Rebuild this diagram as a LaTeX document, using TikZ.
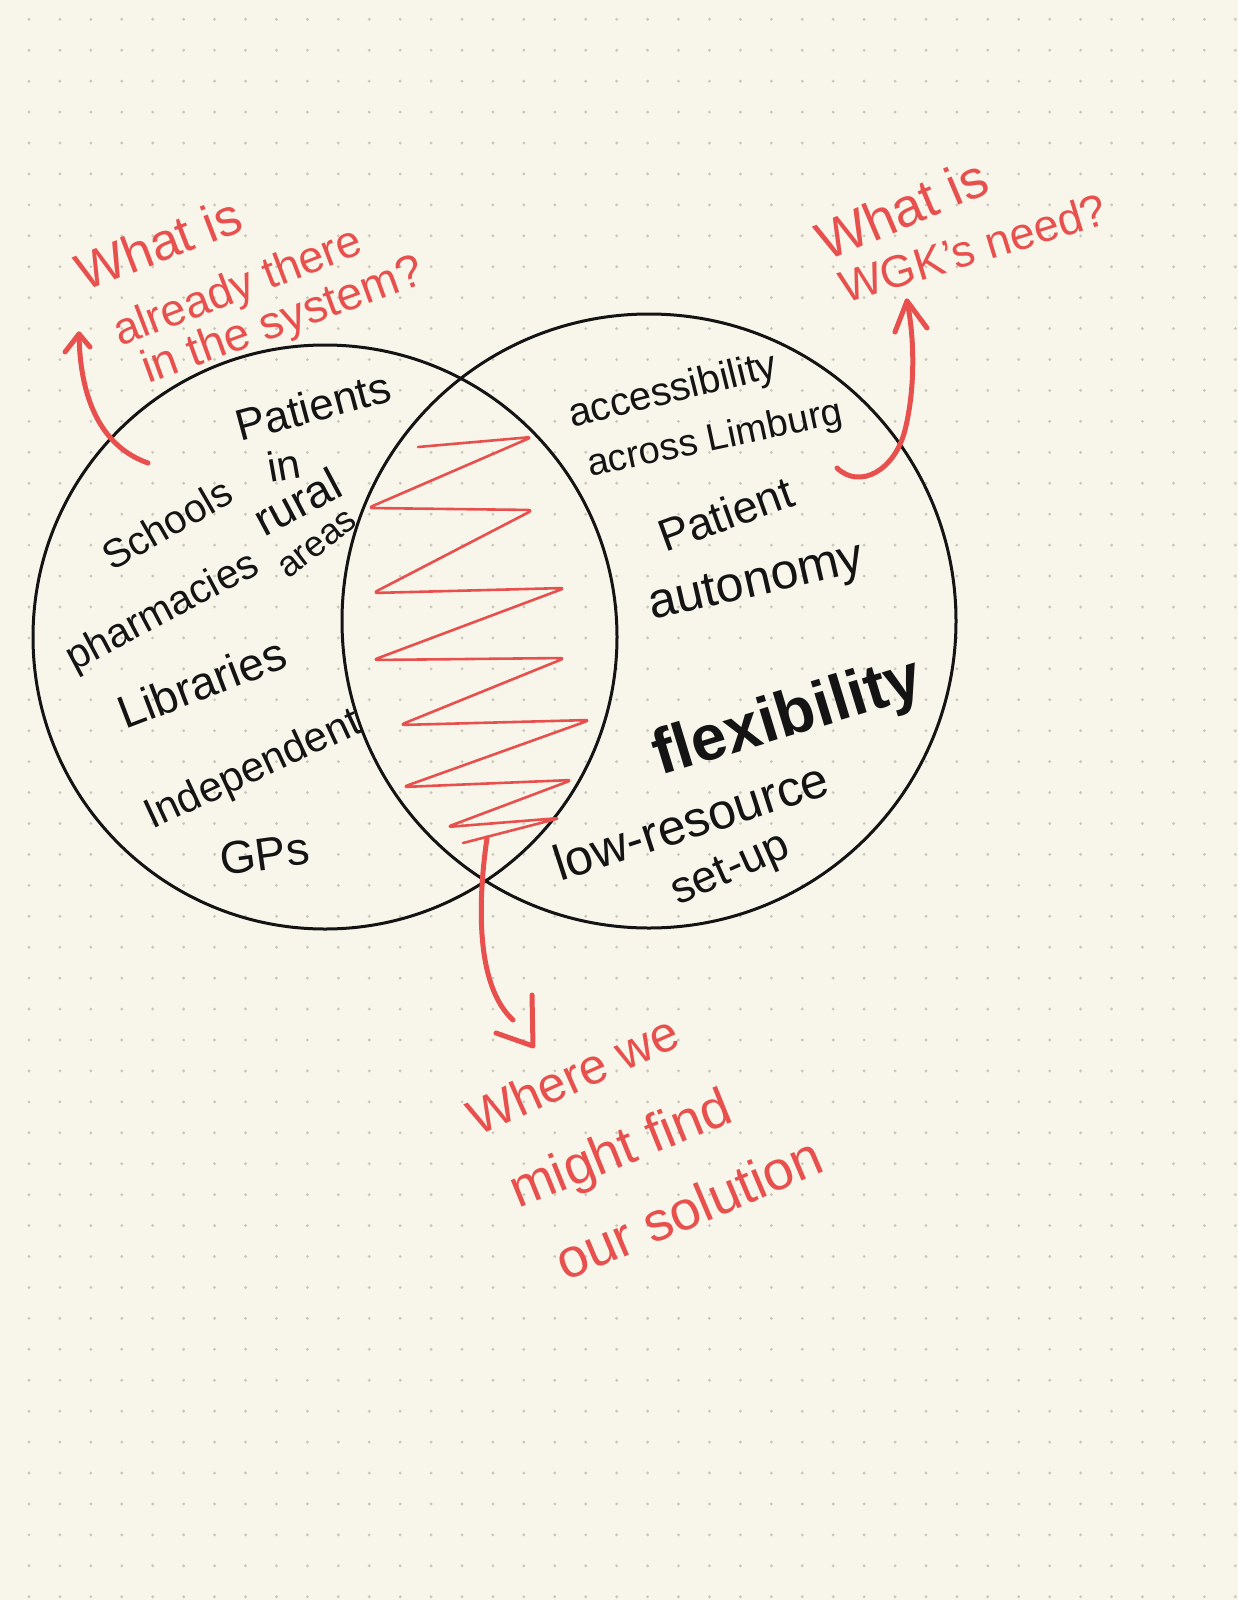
\documentclass[tikz,border=0pt]{standalone}
\usepackage{fontspec}
\setmainfont{Liberation Sans}
\definecolor{paper}{HTML}{F8F6EB}
\definecolor{dotc}{HTML}{CAC7BD}
\definecolor{pen}{HTML}{E8504E}
\definecolor{ink}{HTML}{141414}
\newcommand{\fsz}[1]{\fontsize{#1}{#1}\selectfont}
\begin{document}
\begin{tikzpicture}[x=1pt,y=-1pt,
  inktext/.style={text=ink, inner sep=0pt, anchor=base west},
  redtext/.style={text=pen, inner sep=0pt, anchor=base west},
  venn/.style={draw=ink, line width=3, circle, inner sep=0pt},
  scribble/.style={draw=pen, line width=2.6, rounded corners=5, line cap=round, line join=round},
  arrowpen/.style={draw=pen, line width=5, line cap=round, line join=round}]
\fill[paper] (0,0) rectangle (1238,1600);
\useasboundingbox (0,0) rectangle (1238,1600);
\foreach \i in {0,...,39} \foreach \j in {0,...,51}
  \fill[dotc] (29+30.93*\i, 19.3+30.93*\j) circle (1.6);

% circles
\node[venn, minimum size=584] (L) at (325,637) {};
\node[venn, minimum size=614] (R) at (649,621) {};

% scribble in the intersection
\draw[scribble] (418,447) -- (532,437) -- (368,508) -- (533,510) -- (373,593)
  -- (565,588) -- (373,660) -- (565,658) -- (400,725) -- (590,720) -- (403,787)
  -- (572,780) -- (447,827) -- (560,818) -- (463,843);

% left circle texts
\node[inktext, rotate=15] (t1) at (240,442) {\fsz{44}Patients};
\node[inktext, rotate=10] (t2) at (270,483) {\fsz{42}in};
\node[inktext, rotate=28] (t3) at (264,538) {\fsz{46}rural};
\node[inktext, rotate=38] (t4) at (288,580) {\fsz{36}areas};
\node[inktext, rotate=30] (t5) at (112,572) {\fsz{40}Schools};
\node[inktext, rotate=28] (t6) at (74,672) {\fsz{41}pharmacies};
\node[inktext, rotate=21] (t7) at (125,730) {\fsz{46}Libraries};
\node[inktext, rotate=25] (t8) at (152,830) {\fsz{42}Independent};
\node[inktext, rotate=8] (t9) at (222,876) {\fsz{46}GPs};

% right circle texts
\node[inktext, rotate=14] (u1) at (572,428) {\fsz{40}accessibility};
\node[inktext, rotate=12] (u2) at (590,477) {\fsz{38}across Limburg};
\node[inktext, rotate=20] (u3) at (665,553) {\fsz{45}Patient};
\node[inktext, rotate=13] (u4) at (652,620) {\fsz{50}autonomy};
\node[inktext, rotate=17] (u5) at (660,776) {\fsz{64}\bfseries flexibility};
\node[inktext, rotate=18] (u6) at (560,882) {\fsz{50}low-resource};
\node[inktext, rotate=24] (u7) at (678,906) {\fsz{45}set-up};

% red annotations
\node[redtext, rotate=21] (q1) at (84,292) {\fsz{52}What is};
\node[redtext, rotate=21] (q2) at (120,347) {\fsz{45}already there};
\node[redtext, rotate=20] (q3) at (148,384) {\fsz{46}in the system?};
\node[redtext, rotate=23] (w1) at (826,262) {\fsz{54}What is};
\node[redtext, rotate=17] (w2) at (845,304) {\fsz{45}WGK's need?};
\node[redtext, rotate=24] (s1) at (477,1137) {\fsz{50}Where we};
\node[redtext, rotate=22] (s2) at (518,1209) {\fsz{54}might find};
\node[redtext, rotate=23] (s3) at (565,1282) {\fsz{55}our solution};

% arrows
\coordinate (a1s) at (148,463);
\coordinate (a1e) at (79,334);
\draw[arrowpen] (a1s) .. controls (105,448) and (80,405) .. (a1e);
\draw[arrowpen] (65,352) -- (a1e) -- (90,347);

\coordinate (a2s) at (837,468);
\coordinate (a2m) at (905,430);
\coordinate (a2e) at (907,301);
\draw[arrowpen] (a2s) .. controls (860,490) and (895,470) .. (a2m)
  .. controls (915,390) and (915,340) .. (a2e);
\draw[arrowpen] (895,332) -- (a2e) -- (927,328);

\coordinate (a3s) at (487,838);
\coordinate (a3e) at (513,1020);
\coordinate (a3t) at (533,1046);
\draw[arrowpen] (a3s) .. controls (478,900) and (475,985) .. (a3e);
\draw[arrowpen] (532,995) -- (a3t) -- (496,1033);
\end{tikzpicture}
\end{document}
